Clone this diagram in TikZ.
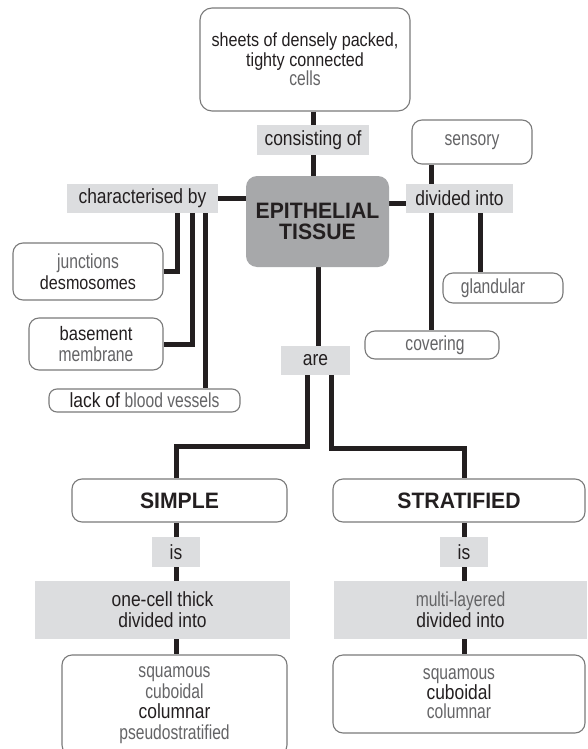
\documentclass[tikz,border=0pt]{standalone}
\usepackage{fontspec}
\setmainfont{Liberation Sans}[FakeStretch=0.85]
\newfontfamily\headfont{Liberation Sans}[FakeStretch=0.95]
\newfontfamily\litefont{Liberation Sans}[FakeStretch=0.77]
\usetikzlibrary{backgrounds}
\definecolor{ink}{HTML}{231F20}
\definecolor{lite}{HTML}{646466}
\definecolor{lab}{HTML}{DCDDDF}
\definecolor{epifill}{HTML}{A7A8AA}
\definecolor{bord}{HTML}{7A7A7A}
\newcommand{\lt}[1]{{\litefont\fontsize{20.3}{20.3}\selectfont\color{lite}#1}}
\begin{document}
\begin{tikzpicture}[x=1pt,y=-1pt,
  box/.style={draw=bord, line width=1.1pt, rounded corners=10pt, fill=white, text=ink,
    align=center, inner sep=0pt, font=\fontsize{20.5}{20.5}\selectfont},
  lbl/.style={fill=lab, text=ink, align=center, inner sep=0pt, font=\fontsize{20.5}{21}\selectfont},
  head/.style={font=\headfont\fontsize{22.3}{21}\selectfont\bfseries},
  conn/.style={draw=ink, line width=5pt},
]
\useasboundingbox (0,0) rectangle (587,749);
\clip (0,0) rectangle (587,749);

% nodes
\node[box, rounded corners=12pt, minimum width=210pt, minimum height=103pt, font=\fontsize{19}{19.5}\selectfont] (top) at (305,59.5)
  {sheets of densely packed,\\ tighty connected\\ \lt{cells}};
\node[lbl, minimum width=112pt, minimum height=30pt] (cons) at (313,140) {consisting of};
\node[fill=epifill, rounded corners=11pt, text=ink, align=center, inner sep=0pt,
  minimum width=143pt, minimum height=91pt, head] (epi) at (317.5,221.5) {EPITHELIAL\\ TISSUE};
\node[lbl, minimum width=151pt, minimum height=29pt] (cb) at (142.5,198.5) {characterised by};
\node[box, minimum width=150pt, minimum height=57pt, font=\fontsize{19}{21}\selectfont] (jn) at (88,271.5) {\lt{junctions}\\ desmosomes};
\node[box, minimum width=134pt, minimum height=52pt, font=\fontsize{19.5}{20.5}\selectfont] (bm) at (96,344) {basement\\ \lt{membrane}};
\node[box, rounded corners=8pt, minimum width=191pt, minimum height=23pt] (lk) at (144.5,400.5) {lack of \lt{blood vessels}};
\node[box, minimum width=120pt, minimum height=44pt] (sens) at (472,142) {\lt{sensory}};
\node[lbl, minimum width=107pt, minimum height=29pt] (div) at (459.5,198.5) {divided into};
\node[box, minimum width=120pt, minimum height=30pt] (gl) at (503,288) {\lt{glandular}\hspace*{20pt}};
\node[box, minimum width=134pt, minimum height=28pt] (cov) at (432,345) {\hspace*{6pt}\lt{covering}};
\node[lbl, minimum width=69pt, minimum height=29pt] (are) at (315.5,360.5) {are};
\node[box, minimum width=215pt, minimum height=43pt, head] (simp) at (179.5,500.5) {SIMPLE};
\node[lbl, minimum width=48pt, minimum height=30pt] (is1) at (176,552) {is};
\node[lbl, minimum width=255pt, minimum height=58pt] (one) at (162.5,610) {one-cell thick\\ divided into};
\node[box, minimum width=225pt, minimum height=100pt, font=\fontsize{20.5}{20.5}\selectfont] (sitems) at (174.5,705)
  {\lt{squamous}\\ \lt{cuboidal}\\ columnar\\ \lt{pseudostratified}};
\node[box, minimum width=252pt, minimum height=43pt, head] (strat) at (459,500.5) {STRATIFIED};
\node[lbl, minimum width=48pt, minimum height=30pt] (is2) at (464,552) {is};
\node[lbl, minimum width=253pt, minimum height=58pt] (multi) at (460.5,610) {\lt{multi-layered}\\ divided into};
\node[box, minimum width=252pt, minimum height=78pt, font=\fontsize{20.5}{19.5}\selectfont] (stitems) at (459,694)
  {\lt{squamous}\\ cuboidal\\ \lt{columnar}};

% branch coordinates
\coordinate (b1) at (177,0);
\coordinate (b2) at (192,0);
\coordinate (b3) at (205,0);
\coordinate (d1) at (431,0);
\coordinate (d2) at (480,0);
\coordinate (a0) at (318,0);
\coordinate (h1) at (307,446);
\coordinate (h2) at (331,448);

\begin{scope}[on background layer]
  \fill[white] (0,0) rectangle (587,749);
  \draw[conn] (cons.center |- top.south) -- (cons.center |- epi.north);
  \draw[conn] (cb.east) -- (cb.east -| epi.west);
  \draw[conn] (b1 |- cb.south) |- (jn.east);
  \draw[conn] (b2 |- cb.south) |- (bm.east);
  \draw[conn] (b3 |- cb.south) -- (b3 |- lk.north);
  \draw[conn] ([yshift=-5pt]div.west) -- ([yshift=-5pt]div.west -| epi.east);
  \draw[conn] (d1 |- sens.south) -- (d1 |- cov.north);
  \draw[conn] (d2 |- div.south) -- (d2 |- gl.north);
  \draw[conn] (a0 |- epi.south) -- (a0 |- are.north);
  \draw[conn] (h1 |- are.south) -- (h1) -| (is1.center |- simp.north);
  \draw[conn] (h2 |- are.south) -- (h2) -| (is2.center |- strat.north);
  \draw[conn] (is1.center |- simp.south) -- (is1.center |- sitems.north);
  \draw[conn] (is2.center |- strat.south) -- (is2.center |- stitems.north);
\end{scope}
\end{tikzpicture}
\end{document}
